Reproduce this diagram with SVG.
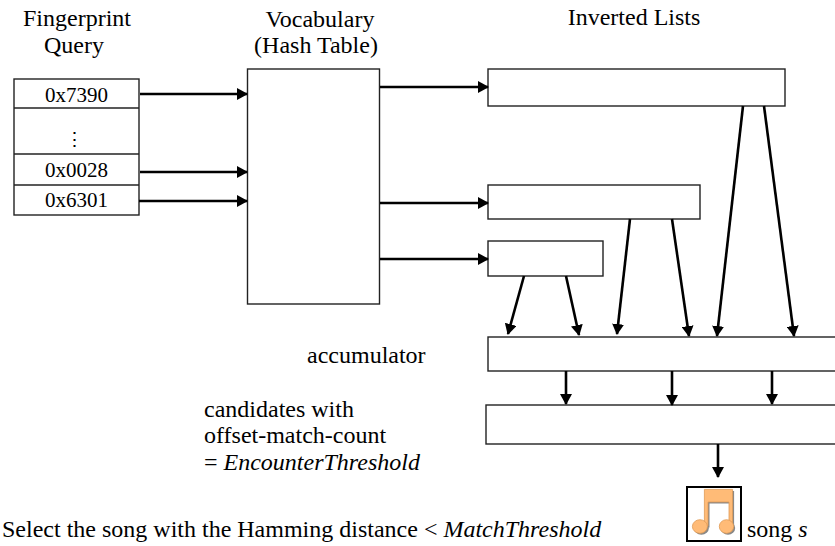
<svg xmlns="http://www.w3.org/2000/svg" width="835" height="546" viewBox="0 0 835 546">
<defs>
<style>
.lbl{font-family:"Liberation Serif","Times New Roman",serif;font-size:24px;fill:#000}
.cell{font-family:"Liberation Serif","Times New Roman",serif;font-size:21px;fill:#000;text-anchor:middle}
.dots{font-family:"DejaVu Serif","Liberation Serif",serif;font-size:19px;fill:#000;text-anchor:middle}
.mid{text-anchor:middle}
.box{fill:#fff;stroke:#222;stroke-width:1.4}
.arr{stroke:#000;stroke-width:2.6;fill:none;marker-end:url(#ah)}
.note{fill:#FFBB77;stroke:#E09A55;stroke-width:0.8}
.shadow{fill:#888}
</style>
<marker id="ah" viewBox="0 0 11 12" refX="10" refY="6" markerWidth="11" markerHeight="12" markerUnits="userSpaceOnUse" orient="auto">
<path d="M0,0 L11,6 L0,12 z" fill="#000"/>
</marker>
</defs>
<rect width="835" height="546" fill="#fff"/>

<text class="lbl mid" x="77" y="26">Fingerprint</text>
<text class="lbl mid" x="74" y="53">Query</text>
<text class="lbl mid" x="320" y="27">Vocabulary</text>
<text class="lbl mid" x="316" y="53">(Hash Table)</text>
<text class="lbl mid" x="634" y="25">Inverted Lists</text>

<g id="query">
<rect class="box" x="14" y="79" width="125" height="136"/>
<line x1="14" y1="108" x2="139" y2="108" stroke="#222" stroke-width="1.4"/>
<line x1="14" y1="154" x2="139" y2="154" stroke="#222" stroke-width="1.4"/>
<line x1="14" y1="185" x2="139" y2="185" stroke="#222" stroke-width="1.4"/>
<text class="cell" x="76.5" y="101.5">0x7390</text>
<text class="dots" x="74" y="146">⋮</text>
<text class="cell" x="76.5" y="177">0x0028</text>
<text class="cell" x="76.5" y="206.5">0x6301</text>
</g>

<g id="vocabulary">
<rect class="box" x="247.5" y="69" width="132" height="235"/>
</g>

<g id="list1"><rect class="box" x="488" y="69" width="297" height="37"/></g>
<g id="list2"><rect class="box" x="488" y="185" width="212" height="34"/></g>
<g id="list3"><rect class="box" x="488" y="241" width="115" height="35"/></g>

<g id="accumulator">
<rect class="box" x="488" y="337" width="360" height="34"/>
<text class="lbl" x="307" y="363">accumulator</text>
</g>

<g id="candidates">
<rect class="box" x="486" y="405" width="362" height="39"/>
<text class="lbl" x="204" y="417">candidates with</text>
<text class="lbl" x="204" y="443">offset-match-count</text>
<text class="lbl" x="204" y="470">= <tspan font-style="italic">EncounterThreshold</tspan></text>
</g>

<g id="song">
<rect x="687" y="487" width="54" height="54" fill="#fff" stroke="#000" stroke-width="2"/>
<g transform="translate(688.5,488.5)">
<path class="shadow" d="M17.4,2.4 H45.6 V39 H42 V15 H21 V39 H17.4 z"/>
<ellipse class="shadow" cx="12.9" cy="39.5" rx="7.5" ry="6.8"/>
<ellipse class="shadow" cx="39.5" cy="39.5" rx="7.2" ry="6.8"/>
</g>
<g transform="translate(687,487)">
<path class="note" d="M17.4,2.4 H45.6 V39 H42 V15 H21 V39 H17.4 z"/>
<ellipse class="note" cx="12.9" cy="39.5" rx="7.5" ry="6.8"/>
<ellipse class="note" cx="39.5" cy="39.5" rx="7.2" ry="6.8"/>
</g>
<text class="lbl" x="747" y="537">song <tspan font-style="italic">s</tspan></text>
</g>

<text class="lbl" x="2" y="537">Select the song with the Hamming distance &lt; <tspan font-style="italic">MatchThreshold</tspan></text>

<g id="connectors">
<line class="arr" x1="140" y1="94" x2="247" y2="94"/>
<line class="arr" x1="140" y1="172" x2="247" y2="172"/>
<line class="arr" x1="139" y1="201" x2="247" y2="201"/>
<line class="arr" x1="380" y1="87" x2="488" y2="87"/>
<line class="arr" x1="380" y1="203" x2="488" y2="203"/>
<line class="arr" x1="380" y1="259" x2="488" y2="259"/>
<line class="arr" x1="524" y1="276" x2="508" y2="334"/>
<line class="arr" x1="566" y1="276" x2="579" y2="335"/>
<line class="arr" x1="630" y1="219" x2="617" y2="334"/>
<line class="arr" x1="672" y1="219" x2="689" y2="336"/>
<line class="arr" x1="743" y1="106" x2="717" y2="336"/>
<line class="arr" x1="764" y1="106" x2="794" y2="336"/>
<line class="arr" x1="566" y1="371" x2="566" y2="404"/>
<line class="arr" x1="672" y1="371" x2="672" y2="405"/>
<line class="arr" x1="772" y1="371" x2="772" y2="404"/>
<line class="arr" x1="718" y1="444" x2="718" y2="477"/>
</g>
</svg>
